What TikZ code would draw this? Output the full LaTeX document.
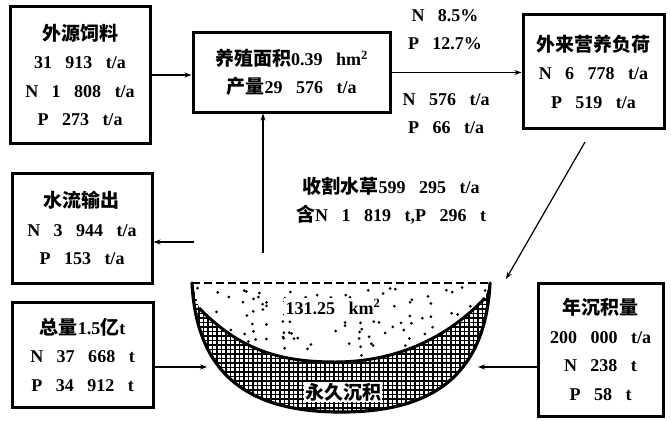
\documentclass[tikz,border=0pt]{standalone}
\usepackage{fontspec}
\setmainfont{Liberation Serif}[WordSpace=3.0]
\newfontfamily\cjk{Noto Sans CJK SC}
\usetikzlibrary{arrows.meta}
\newcommand{\zh}[1]{{\cjk\bfseries\fontsize{19}{28.5}\selectfont #1}}
\tikzset{
  box/.style={draw, line width=3pt, align=center, inner sep=0pt,
    font=\fontsize{18}{28.5}\selectfont\bfseries},
  arr/.style={line width=1.2pt, -{Stealth[length=7pt,width=5pt]}},
  lbl/.style={align=center, inner sep=0pt, font=\fontsize{18}{28}\selectfont\bfseries},
  wall/.style={line width=3.2pt, line cap=round}
}
\begin{document}
\begin{tikzpicture}[x=1pt, y=-1pt]
\useasboundingbox (0,0) rectangle (671,420);

% --- boxes ---
\node[box, minimum width=140pt, minimum height=136pt] (feed) at (80,75)
  {\zh{外源饲料}\\31 913 t/a\\N 1 808 t/a\\P 273 t/a};
\node[box, minimum width=197pt, minimum height=79pt] (farm) at (291.5,72.5)
  {\zh{养殖面积}0.39 hm\textsuperscript{2}\\\zh{产量}29 576 t/a};
\node[box, minimum width=141pt, minimum height=113pt] (load) at (593.5,71.5)
  {\zh{外来营养负荷}\\N 6 778 t/a\\P 519 t/a};
\node[box, minimum width=140pt, minimum height=110pt] (outflow) at (82,228)
  {\zh{水流输出}\\N 3 944 t/a\\P 153 t/a};
\node[box, minimum width=141pt, minimum height=105pt] (stock) at (82.5,354.5)
  {\zh{总量}1.5\zh{亿}t\\N 37 668 t\\P 34 912 t};
\node[box, minimum width=125pt, minimum height=133pt] (sedi) at (600.5,349.5)
  {\zh{年沉积量}\\200 000 t/a\\N 238 t\\P 58 t};

% --- flow labels ---
\node[lbl] (ratio) at (445,30) {N 8.5\%\\P 12.7\%};
\node[lbl] (export) at (446,114) {N 576 t/a\\P 66 t/a};
\node[lbl] (harvest) at (391,201) {\zh{收割水草}599 295 t/a\\\zh{含}N 1 819 t,P 296 t};

% --- connector ends ---
\coordinate (lakeTop) at (263,253);
\coordinate (lakeOut) at (194,242);
\coordinate (lakeL) at (207,367);
\coordinate (lakeR) at (478,367);
\coordinate (loadEnd) at (506,279);
\coordinate (loadStart) at (585,142);

% --- lake basin ---
\def\outer{(192,283) .. controls (197,380) and (255,412) .. (341,412)
  .. controls (427,412) and (485,380) .. (490,283)}
\def\inner{(485,298) .. controls (450,335) and (400,362) .. (335,362)
  .. controls (280,362) and (240,350) .. (199,308)}
% cross-hatched permanent sediment
\begin{scope}
  \clip \outer -- \inner -- cycle;
  \fill[white] (180,280) rectangle (500,420);
  \foreach \gx in {190,194.5,...,495} \draw[line width=1.6pt] (\gx,280) -- (\gx,420);
  \foreach \gy in {300,304.5,...,420} \draw[line width=1.6pt] (180,\gy) -- (500,\gy);
\end{scope}
% dotted water body
\begin{scope}
  \clip (192,283) -- (490,283) -- \inner -- cycle;
  \pgfmathsetseed{11}
  \foreach \i in {1,...,130} {
    \pgfmathsetmacro\px{194+294*rnd}
    \pgfmathsetmacro\py{287+74*rnd}
    \fill (\px,\py) circle (1.5pt);
  }
\end{scope}
\draw[wall] \outer;
\draw[line width=3pt] (485,298) .. controls (450,335) and (400,362) .. (335,362)
  .. controls (280,362) and (240,350) .. (199,308);
\draw[line width=1.6pt, dash pattern=on 8pt off 4pt] (192,283) -- (490,283);
\node[lbl, fill=white, inner sep=1.5pt, font=\fontsize{18}{20}\selectfont\bfseries] (area) at (333,307) {131.25 km\textsuperscript{2}};
\node[fill=white, inner sep=1pt] (perm) at (343,392) {\zh{永久沉积}};

% --- connectors ---
\draw[arr] (feed.east) -- (farm.west |- feed.east);
\draw[arr] (farm.east) -- (load.west |- farm.east);
\draw[arr] (lakeTop) -- (farm.south -| lakeTop);
\draw[arr] (lakeOut) -- (outflow.east |- lakeOut);
\draw[arr] (stock.east |- lakeL) -- (lakeL);
\draw[arr] (sedi.west |- lakeR) -- (lakeR);
\draw[arr] (loadStart) -- (loadEnd);
\end{tikzpicture}
\end{document}
